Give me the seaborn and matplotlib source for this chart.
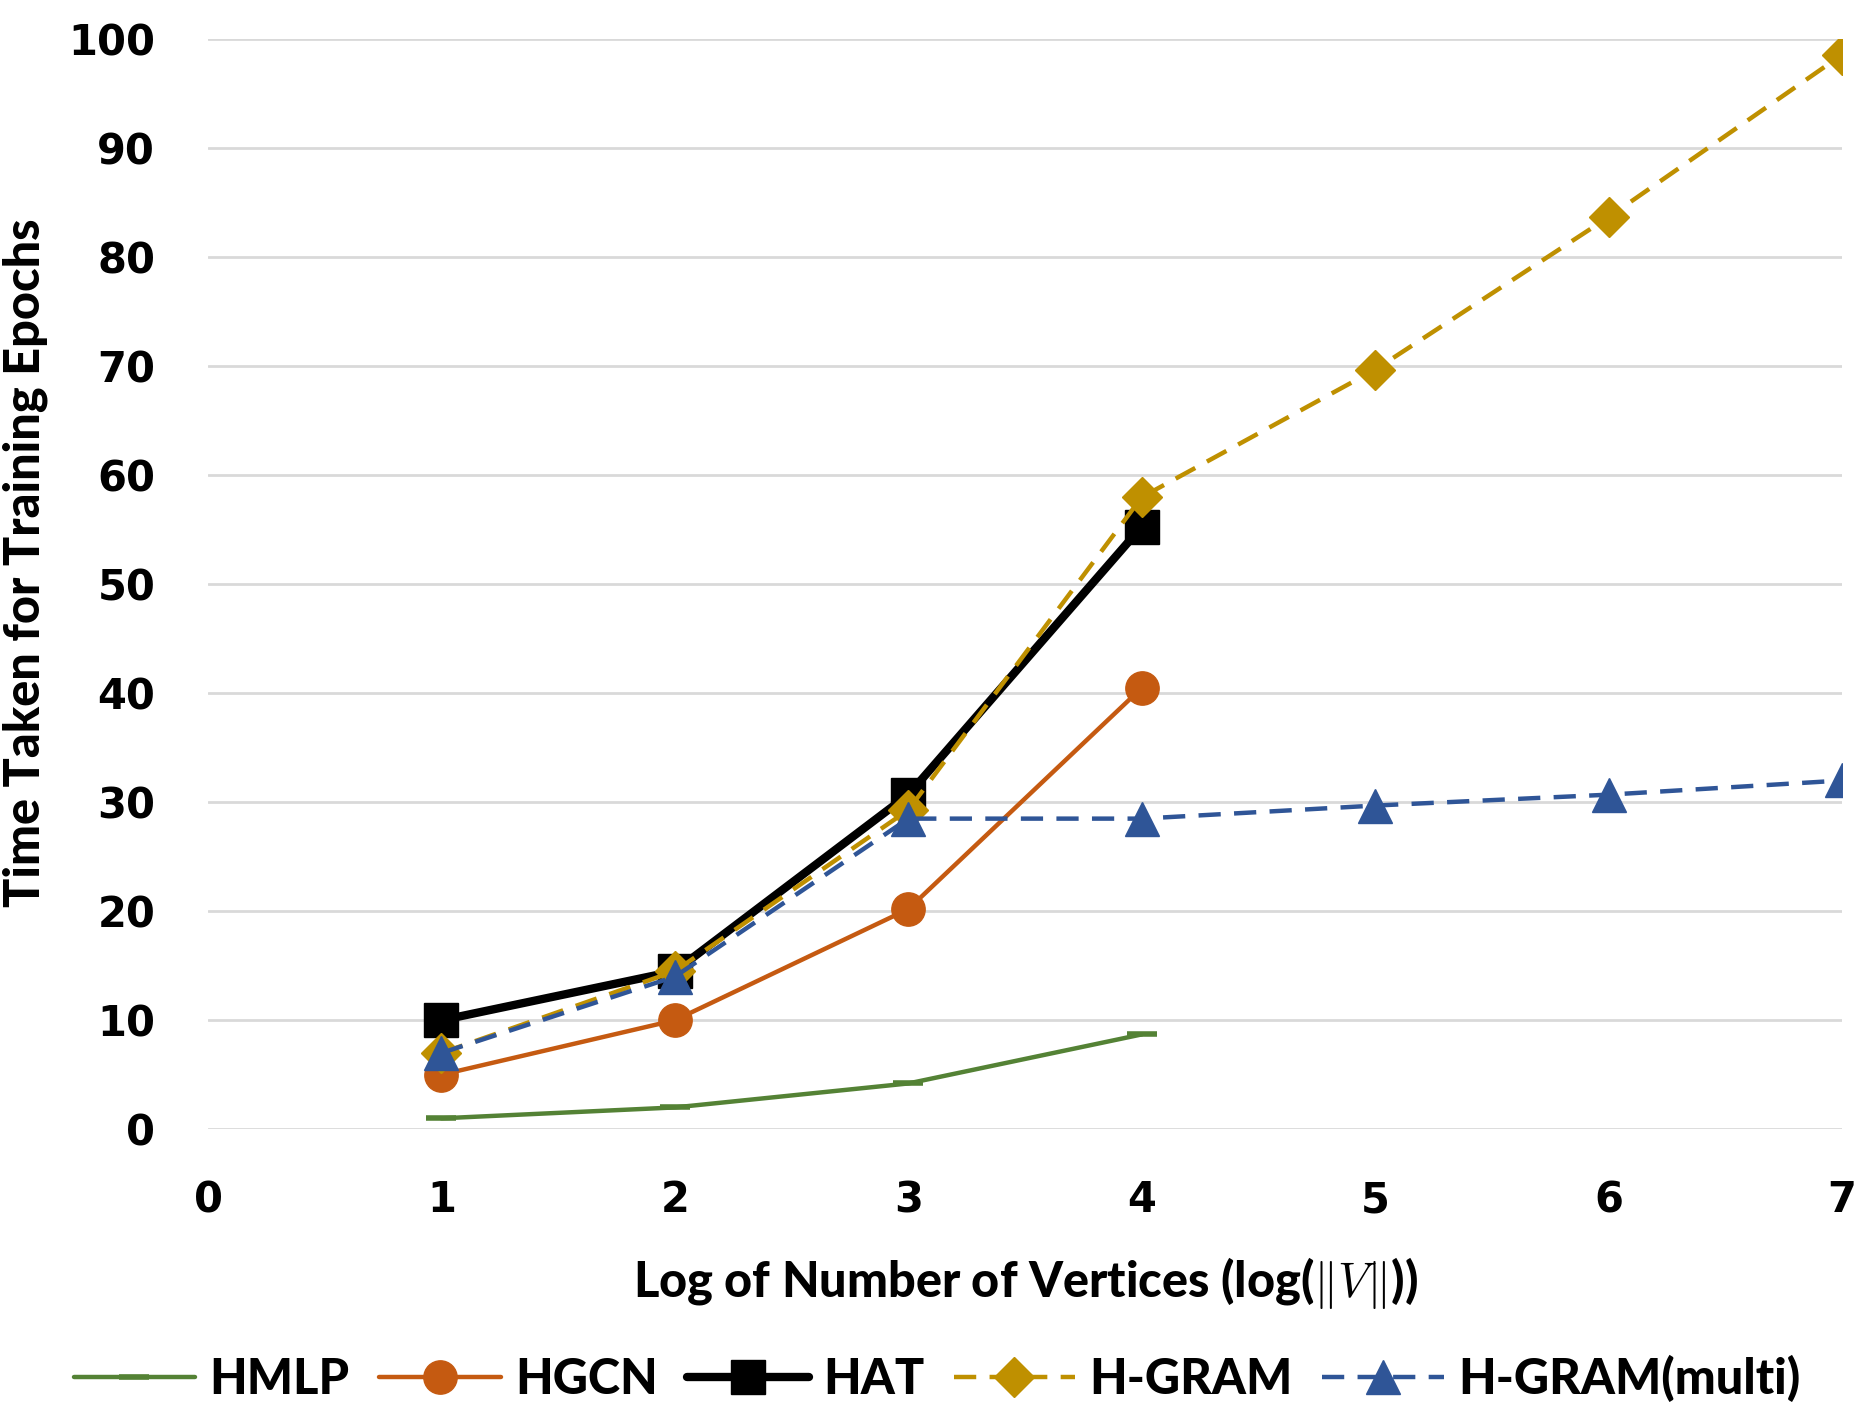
import matplotlib
matplotlib.use("Agg")
import matplotlib.pyplot as plt
import seaborn as sns
import pandas as pd

x_short = [1, 2, 3, 4]
x_long = [1, 2, 3, 4, 5, 6, 7]
hmlp = [1.0, 2.0, 4.2, 8.7]
hgcn = [5.0, 10.0, 20.2, 40.5]
hat = [10.0, 14.5, 30.7, 55.3]
hgram = [7.0, 14.5, 29.3, 58.0, 69.7, 83.7, 98.6]
hgram_multi = [7.0, 14.0, 28.5, 28.5, 29.7, 30.7, 32.0]
xticks = [0, 1, 2, 3, 4, 5, 6, 7]
yticks = [0, 10, 20, 30, 40, 50, 60, 70, 80, 90, 100]

sns.set_theme(style="white")
plt.rcParams['font.family'] = ['DejaVu Sans']
plt.rcParams['mathtext.fontset'] = 'cm'
plt.rcParams['text.color'] = 'black'
plt.rcParams['axes.labelcolor'] = 'black'
plt.rcParams['xtick.color'] = 'black'
plt.rcParams['ytick.color'] = 'black'

fig = plt.figure(figsize=(18.74, 14.08), dpi=100)
ax = fig.add_axes([0.111, 0.198, 0.872, 0.774])

dash = (0, (5, 3))
series = [
    ("HMLP", x_short, hmlp, "#548235", "-", "_", 22, 3.2),
    ("HGCN", x_short, hgcn, "#C55A11", "-", "o", 24, 3.2),
    ("HAT", x_short, hat, "#000000", "-", "s", 25, 6.0),
    ("H-GRAM", x_long, hgram, "#BF9000", dash, "D", 20, 3.2),
    ("H-GRAM(multi)", x_long, hgram_multi, "#2F5597", dash, "^", 25, 3.2),
]

for name, xs, ys, col, ls, mk, ms, lw in series:
    df = pd.DataFrame({"x": xs, "y": ys})
    sns.lineplot(data=df, x="x", y="y", ax=ax, color=col, linestyle=ls,
                 marker=mk, markersize=ms, linewidth=lw, label=name,
                 markeredgecolor=col, markeredgewidth=(4 if mk == "_" else 1))

ax.set_xlim(0, 7)
ax.set_ylim(0, 100)
ax.set_xticks(xticks)
ax.set_yticks(yticks)
ax.tick_params(axis='both', length=0, labelsize=30, labelcolor='black')
ax.tick_params(axis='x', pad=36)
ax.tick_params(axis='y', pad=38)
for lab in ax.get_xticklabels() + ax.get_yticklabels():
    lab.set_fontweight('bold')
ax.grid(axis='y', color='#D9D9D9', linewidth=2)
ax.grid(axis='x', visible=False)
for s in ax.spines.values():
    s.set_visible(False)

lblfont = ['Lato', 'DejaVu Sans']
ax.set_xlabel(r"Log of Number of Vertices (log($\|V\|$))", fontsize=35,
              fontweight='black', fontfamily=lblfont, labelpad=24, color='black')
ax.set_ylabel("Time Taken for Training Epochs", fontsize=35, fontweight='black',
              fontfamily=lblfont, labelpad=10, color='black')
ax.yaxis.set_label_coords(-0.098, 0.52)

ax.legend_.remove()
handles, labels = ax.get_legend_handles_labels()
fig.legend(handles, labels, loc='lower center', bbox_to_anchor=(0.5, -0.027), ncol=5,
           frameon=False, handlelength=2.5, columnspacing=0.6, handletextpad=0.3,
           prop={'family': lblfont, 'weight': 'black', 'size': 35})

fig.savefig("out.png", dpi=100)
